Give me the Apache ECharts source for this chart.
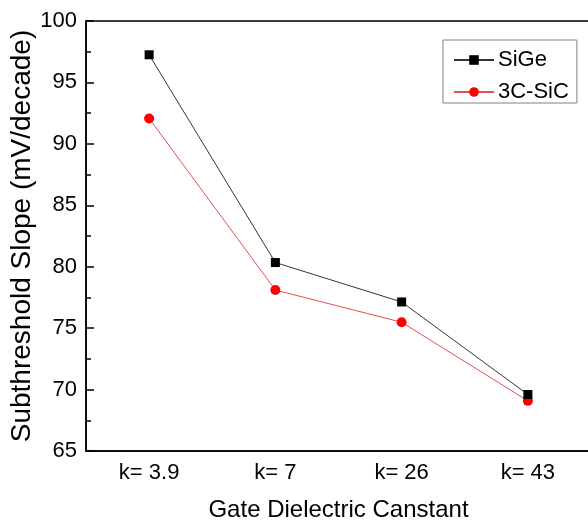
<!DOCTYPE html>
<html>
<head>
<meta charset="utf-8">
<script src="https://cdn.jsdelivr.net/npm/echarts@6/dist/echarts.min.js"></script>
<style>
html,body{margin:0;padding:0;background:#fff;}
#c{width:588px;height:529px;}
</style>
</head>
<body>
<div id="c"></div>
<script>
var categories = ['k= 3.9', 'k= 7', 'k= 26', 'k= 43'];
var sigeValues = [97.25, 80.34, 77.13, 69.6];
var sicValues = [92.07, 78.1, 75.48, 69.08];
var seriesNames = ['SiGe', '3C-SiC'];
var yTicks = {min: 65, max: 100, interval: 5};
var xTitle = 'Gate Dielectric Canstant';
var yTitle = 'Subthreshold Slope (mV/decade)';

var FONT = '"Liberation Sans", Arial, sans-serif';
var chart = echarts.init(document.getElementById('c'), null, {renderer: 'canvas'});
chart.setOption({
  animation: false,
  backgroundColor: '#fff',
  textStyle: {fontFamily: FONT, color: '#000'},
  grid: {left: 86, top: 21, right: -3, bottom: 78, show: true, borderColor: '#000', borderWidth: 1.5, backgroundColor: 'transparent', containLabel: false, outerBoundsMode: 'none'},
  legend: {
    left: 443, top: 40,
    orient: 'vertical',
    borderColor: '#808080', borderWidth: 1,
    padding: [9, 8, 0, 10],
    itemGap: 10,
    itemWidth: 40, itemHeight: 12,
    textStyle: {fontFamily: FONT, fontSize: 22, color: '#000', padding: [0, 0, 0, -1]},
    data: seriesNames
  },
  xAxis: [{
    type: 'category',
    data: categories,
    position: 'bottom',
    name: xTitle,
    nameLocation: 'middle',
    nameGap: 47,
    nameMoveOverlap: false,
    nameTextStyle: {fontFamily: FONT, fontSize: 24, color: '#000'},
    axisLine: {lineStyle: {color: '#000', width: 1.5}},
    axisTick: {inside: true, alignWithLabel: true, length: 9, lineStyle: {color: '#000', width: 1.5}},
    axisLabel: {fontFamily: FONT, fontSize: 22, color: '#000', margin: 11},
    splitLine: {show: false}
  }, {
    type: 'category',
    data: categories,
    position: 'bottom',
    axisLine: {show: false},
    axisTick: {inside: true, length: 5, lineStyle: {color: '#000', width: 1.5}},
    axisLabel: {show: false},
    splitLine: {show: false}
  }],
  yAxis: {
    type: 'value',
    min: yTicks.min, max: yTicks.max, interval: yTicks.interval,
    name: yTitle,
    nameLocation: 'middle',
    nameGap: 50,
    nameMoveOverlap: false,
    nameTextStyle: {fontFamily: FONT, fontSize: 28, color: '#000'},
    axisLine: {show: true, lineStyle: {color: '#000', width: 1.5}},
    axisTick: {show: true, inside: true, length: 8, lineStyle: {color: '#000', width: 1.5}},
    minorTick: {show: true, splitNumber: 2, length: 5, lineStyle: {color: '#000', width: 1.5}},
    axisLabel: {fontFamily: FONT, fontSize: 22, color: '#000', margin: 9},
    splitLine: {show: false}
  },
  series: [{
    name: seriesNames[0],
    type: 'line',
    data: sigeValues,
    symbol: 'rect',
    symbolSize: 9,
    itemStyle: {color: '#000'},
    lineStyle: {color: '#333', width: 1},
    z: 3
  }, {
    name: seriesNames[1],
    type: 'line',
    data: sicValues,
    symbol: 'circle',
    symbolSize: 10,
    itemStyle: {color: '#ff0000'},
    lineStyle: {color: '#e05050', width: 1},
    z: 2
  }]
});
</script>
</body>
</html>
